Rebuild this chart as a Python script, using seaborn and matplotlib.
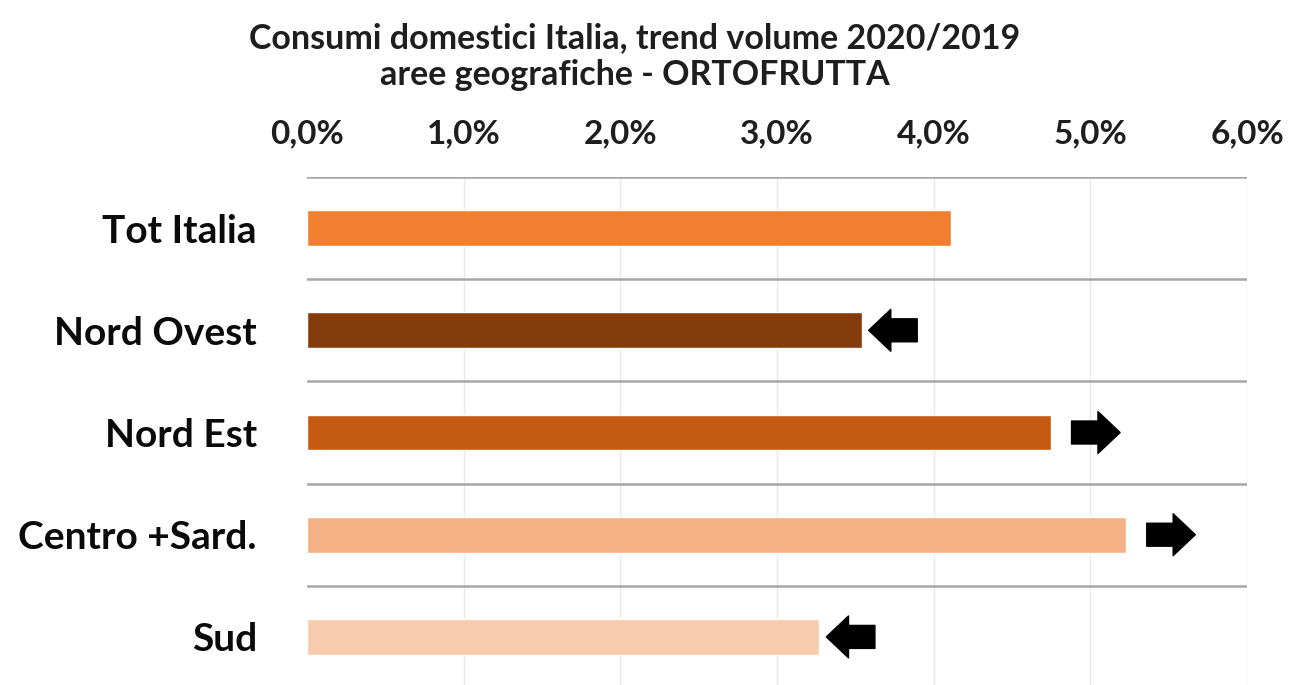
import matplotlib
matplotlib.use("Agg")
import matplotlib.pyplot as plt
import seaborn as sns
import pandas as pd

# Regional volume trend 2020 vs 2019 (fruit & vegetables), percent
regions = ["Tot Italia", "Nord Ovest", "Nord Est", "Centro +Sard.", "Sud"]
trend_pct = [4.11, 3.54, 4.75, 5.23, 3.27]
bar_colors = ["#F07F30", "#843C0C", "#C55A11", "#F4B183", "#F8CBAD"]
# direction of the regional trend versus the national figure
direction = [0, -1, 1, 1, -1]
x_ticks = [0, 1, 2, 3, 4, 5, 6]

sns.set_theme(style="white")
plt.rcParams["font.family"] = ["Lato", "DejaVu Sans"]

df = pd.DataFrame({"regione": regions, "trend": trend_pct})

fig = plt.figure(figsize=(12.94, 6.85), dpi=100)
ax = fig.add_axes([0.2372, -0.0044, 0.7265, 0.746])

sns.barplot(data=df, x="trend", y="regione", hue="regione", palette=bar_colors,
            legend=False, width=0.35, orient="h", ax=ax, saturation=1)

ax.set_xlim(0, 6)
ax.set_ylim(4.5, -0.5)
ax.set_xticks(x_ticks)
ax.set_xticklabels([f"{v:.1f}%".replace(".", ",") for v in x_ticks],
                   fontsize=24, fontweight="bold", color="#1E1E1E")
ax.xaxis.tick_top()
ax.tick_params(axis="x", length=0, pad=21)
ax.tick_params(axis="y", length=0, pad=36)
for lbl in ax.get_yticklabels():
    lbl.set_fontsize(28)
    lbl.set_fontweight("bold")
    lbl.set_color("#0A0A0A")
ax.set_xlabel("")
ax.set_ylabel("")

# faint vertical gridlines, grey row separators
for v in x_ticks[1:]:
    ax.axvline(v, color="#EAEAEA", lw=1, zorder=0)
for k in range(len(regions) + 1):
    ax.axhline(k - 0.5, color="#A6A6A6", lw=1.8, zorder=1)
for s in ax.spines.values():
    s.set_visible(False)

# block arrows showing whether each area is above or below the national trend
arrow_len = 0.31
style = "simple,head_length=0.55,head_width=1.04,tail_width=0.57"
for i, (val, d) in enumerate(zip(trend_pct, direction)):
    if d == 0:
        continue
    if d > 0:
        start = val + 0.13
        end = start + arrow_len
    else:
        end = val + 0.045
        start = end + arrow_len
    ax.annotate("", xy=(end, i), xytext=(start, i),
                arrowprops=dict(arrowstyle=style, color="black",
                                shrinkA=0, shrinkB=0, mutation_scale=29))

fig.text(0.4907, 0.945, "Consumi domestici Italia, trend volume 2020/2019",
         ha="center", va="center", fontsize=24.5, fontweight="bold", color="#1E1E1E")
fig.text(0.4907, 0.89, "aree geografiche - ORTOFRUTTA",
         ha="center", va="center", fontsize=24.5, fontweight="bold", color="#1E1E1E")

fig.savefig("out.png", dpi=100)
